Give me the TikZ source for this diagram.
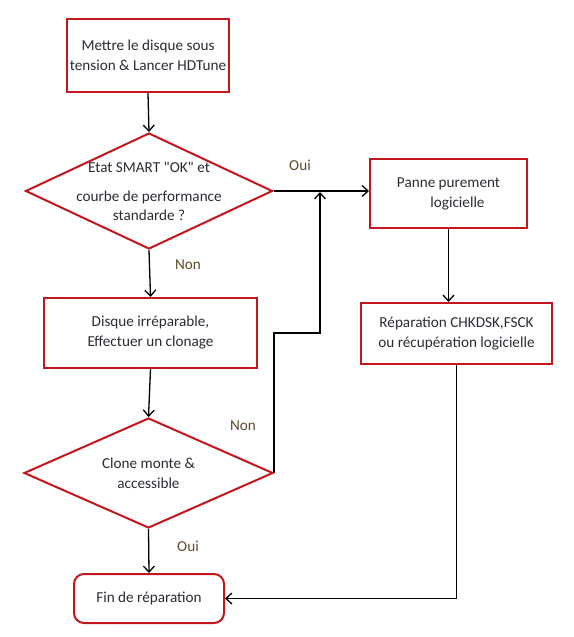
\documentclass[tikz,border=0pt]{standalone}
\usepackage{fontspec}
\setmainfont{Carlito}
\usepackage{tikz}
\usetikzlibrary{shapes.geometric, arrows.meta, positioning, calc}
\definecolor{boxred}{HTML}{C3161C}
\definecolor{inkgray}{HTML}{2B2B35}
\definecolor{tagbrown}{HTML}{5E4B2A}

\begin{document}
\begin{tikzpicture}[x=1pt, y=-1pt,
    every node/.style={font=\fontsize{15.2}{20}\selectfont, text=inkgray},
    stepbox/.style={draw=boxred, line width=2pt, rectangle, align=center,
      inner sep=0pt},
    endbox/.style={stepbox, rounded corners=10pt},
    testbox/.style={draw=boxred, line width=2pt, diamond, align=center,
      inner sep=-30pt},
    tag/.style={text=tagbrown},
    flow/.style={-{Straight Barb[length=6pt, width=11pt]}, line width=1.3pt,
      black}]
  \useasboundingbox (0,0) rectangle (573,637);
  \node[stepbox, minimum width=162pt, minimum height=73pt] (start)
    at (148,55.5) {Mettre le disque sous\\tension \& Lancer HDTune};
  \node[testbox, minimum width=247pt, minimum height=116pt] (smart)
    at (149,191) {Etat SMART \textquotedbl OK\textquotedbl{} et\\[9pt]courbe de performance\\[-1pt]standarde ?};
  \node[stepbox, minimum width=157pt, minimum height=69pt] (logic)
    at (448.5,193.5) {Panne purement\\\hspace*{18pt}logicielle};
  \node[stepbox, minimum width=191pt, minimum height=61pt] (repair)
    at (456.5,333.5) {Réparation CHKDSK,FSCK\\ou récupération logicielle};
  \node[stepbox, minimum width=213pt, minimum height=70pt] (clone)
    at (150.5,333) {Disque irréparable,\\Effectuer un clonage};
  \node[testbox, minimum width=249pt, minimum height=110pt] (mounted)
    at (148.5,473) {Clone monte \&\\accessible};
  \node[endbox, minimum width=150pt, minimum height=49pt] (finish)
    at (149,598.5) {Fin de réparation};
  \node[tag] (yesone) at (300,165) {Oui};
  \node[tag] (noone) at (188,265) {Non};
  \node[tag] (notwo) at (243,426) {Non};
  \node[tag] (yestwo) at (188,546) {Oui};
  \coordinate (jog) at (320,333);
  \coordinate (merge) at (320,192);
  \draw[flow] (start.south) -- (smart.north);
  \draw[flow] (smart.east) -- (smart.east -| logic.west);
  \draw[flow] (smart.south) -- (clone.north);
  \draw[flow] (clone.south) -- (mounted.north);
  \draw[flow] (mounted.south) -- (finish.north);
  \draw[flow] (logic.south) -- (logic.south |- repair.north);
  \draw[flow] (repair.south) |- (finish.east);
  \draw[flow] (mounted.east) |- (jog) -- (merge);
\end{tikzpicture}
\end{document}
